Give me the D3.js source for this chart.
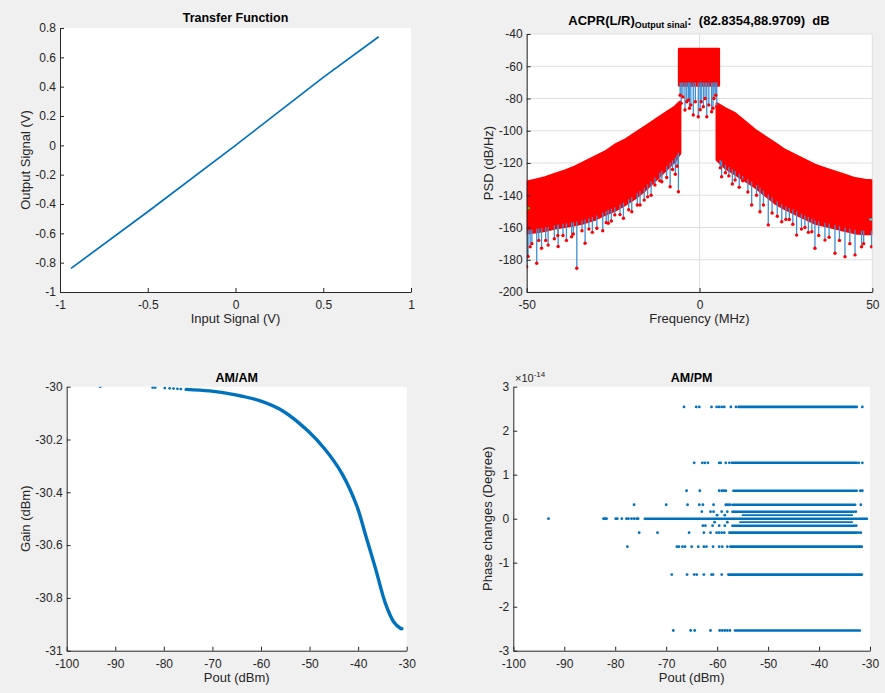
<!DOCTYPE html>
<html>
<head>
<meta charset="utf-8">
<script src="https://cdn.jsdelivr.net/npm/d3@7"></script>
<style>
  body { margin: 0; background: #f0f0f0; }
  svg { display: block; font-family: "Liberation Sans", Arial, sans-serif; }
</style>
</head>
<body>
<svg id="fig" width="885" height="693"></svg>
<script>
// ---- data ----
// transfer function
const tfInput  = [-0.937, -0.5, 0, 0.5, 0.816];
const tfOutput = [-0.839, -0.453, 0, 0.463, 0.740];

// PSD envelopes (MHz, dB/Hz)
const leftBandF   = [-50, -47.6, -44.7, -41.8, -38.9, -36, -33.1, -30.2, -27.3, -24.5, -21.6, -18.7, -15.8, -12.9, -10, -7.1, -5.6];
const leftUpperV  = [-131.6, -130.5, -128.9, -126.8, -124.8, -122.3, -119.2, -116.1, -113, -108.8, -105.7, -101.6, -97.5, -93.3, -89.2, -85.1, -82];
const leftLowerV  = [-163.6, -163, -162, -160.5, -159.5, -158.5, -157, -155, -152, -149.5, -146, -142, -137, -131, -125, -119, -114];
const centerBandF = [-5.9, 5.6];
const centerUpperV = [-49.3, -49.3];
const centerLowerV = [-72, -72];
const rightBandF  = [5.0, 7.4, 10.3, 13.2, 16.1, 19, 21.9, 24.7, 27.6, 30.5, 33.4, 36.3, 39.2, 42.1, 45, 47.9, 50];
const rightUpperV = [-83, -86.1, -89.2, -94.4, -99.5, -103.7, -107.8, -111.9, -115, -118.1, -121.2, -123.3, -125.4, -127.4, -129.5, -130.5, -130.8];
const rightLowerV = [-118, -123, -127, -131, -135, -140, -145, -148.5, -151.5, -154.5, -157.5, -159, -160.5, -162, -163.5, -164, -164];
// visible downward spikes
const spikeF = [-50, -49.6, -49, -48.5, -47.1, -46.5, -45.7, -44.5, -43.8, -42, -41, -40.9, -39.5, -38.5, -37, -36.5,
  -35.5, -34, -33.1, -32, -31, -29.7, -28, -27, -26.4, -25.5, -24.5, -23, -22, -20.5, -19.6, -18, -17.2, -16,
  -15, -14, -12.9, -11.5, -10.9, -9.5, -8.5, -7.8, -7, -6.5, -6.1,
  -5.6, -5.3, -4.8, -4.2, -3.7, -3.2, -2.9, -2.5, -1.8, -1.2, -0.35, 0.2, 0.5, 1.1, 1.6, 2.1, 2.7, 3.5, 3.9, 4.2, 4.7, 5.0,
  6, 6.4, 7.5, 8.5, 9.5, 10.3, 11.5, 12.5, 14, 15.1, 16.5, 17.5, 18.5, 19.9, 21, 22.5, 23.8, 25, 26, 27, 28.1,
  29.5, 30.5, 31.5, 32.5, 33.4, 34.5, 36.3, 37.5, 39.2, 40.5, 42.1, 43.5, 45, 46.9, 47.5, 49.8];
const spikeV = [-184.3, -178, -172, -170, -182.2, -168, -172.9, -168, -170.9, -167, -165, -171.8, -165, -168, -165.7, -164,
  -185.3, -162, -169.8, -161, -163, -160.5, -162, -157, -157.4, -156, -152.2, -152, -154.3, -149, -150.2, -146, -146, -143,
  -141, -140, -133.6, -131, -131.6, -129, -134.7, -124, -127, -122, -137.8,
  -78, -83, -79, -87.1, -82, -80.9, -86, -84, -90.2, -82, -91.3, -87, -82, -85.1, -80, -91.3, -84, -88.2, -86, -80, -78, -85.1,
  -123, -128.5, -126, -128, -133, -130.5, -135, -131, -138, -146, -140, -150.2, -146, -158.4, -151, -153, -156.4, -155, -155, -158, -164.7,
  -161, -160, -163, -162.6, -172.9, -165, -167.8, -166, -176, -168, -178.1, -170, -177, -171.9, -170, -171.9];

// AM/AM
const amPout = [-75.4, -70.6, -65.8, -60.3, -55.5, -50.2, -46.7, -43.3, -40.3, -38.5, -36.4, -34.4, -32.7, -31.3, -31.0];
const amGain = [-30.01, -30.016, -30.029, -30.053, -30.092, -30.17, -30.24, -30.33, -30.45, -30.56, -30.69, -30.82, -30.89, -30.915, -30.917];
const amSparsePout = [-93.1, -82.3, -81.8, -79.8, -78.8, -78, -77.2, -76.5];
const amSparseGain = [-30.0, -30.003, -30.003, -30.005, -30.006, -30.007, -30.008, -30.009];

// AM/PM (units of 1e-14 degree)
const pmLevels = [2.541, 1.2705, 0.6353, 0.3176, 0.1588, 0.0794, 0, -0.0794, -0.1588, -0.3176, -0.6353, -1.2705, -2.541];
const pmDenseStart = [-55.8, -57.1, -56.8, -57, -57, -55, -74.2, -55.5, -57, -57.6, -57.4, -57.8, -56.5];
const pmDenseEnd   = [-32.6, -32.6, -32.6, -32.9, -33.2, -33.5, -30.6, -33.5, -33, -32.6, -31.6, -31.6, -32];
const pmSparse = [
  [-66.5, -64.1, -63.5, -61.1, -60.1, -59.6, -59.1, -58.6, -57.3, -56.3, -31.5],
  [-64.5, -62.9, -62.4, -61.8, -59.6, -59.3, -58.3, -57.6, -32.2, -31.5],
  [-66, -63.4, -59.6, -59.1, -58.7, -58.3, -31.9, -31.5],
  [-76.3, -70, -65.8, -63.5, -62.8, -60.7, -58.3, -57.9, -57.5, -31.8],
  [-63, -61.3, -60.7, -59.1, -58, -32.8],
  [-60, -58.5],
  [-93.1, -82.3, -82, -81.7, -79.9, -79.6, -78.7, -77.8, -77.4, -76.8, -76.3, -75.8, -75.5],
  [-60.5, -58],
  [-62.8, -62.3, -60.9, -59.6, -58.5, -32.7],
  [-75.3, -71.7, -65.5, -62.6, -61.3, -60.1, -59.6, -59.1, -58.6, -32.2, -31.8],
  [-77.6, -67.9, -67.5, -66.8, -66.3, -65, -63.7, -62.6, -62.1, -60.8, -59.6, -59, -58],
  [-68.9, -65.9, -64.5, -64, -62.6, -61.1, -60.8, -59.1],
  [-68.6, -65.2, -64.4, -61.3, -59.5, -59, -58.5, -58, -57.5]
];

// ---- drawing ----
const blue = "#0072BD";
const axisColor = "#262626";
const svg = d3.select("#fig");
svg.append("rect").attr("width", 885).attr("height", 693).attr("fill", "#f0f0f0");
const defs = svg.append("defs");
const fmt = d => String(+d.toFixed(2));

function makePanel(id, box, xDom, yDom, xTicks, yTicks, grid) {
  const x = d3.scaleLinear().domain(xDom).range([box.l, box.r]);
  const y = d3.scaleLinear().domain(yDom).range([box.b, box.t]);
  svg.append("rect")
    .attr("x", box.l).attr("y", box.t)
    .attr("width", box.r - box.l).attr("height", box.b - box.t)
    .attr("fill", "#fff");
  if (grid) {
    const gg = svg.append("g").attr("stroke", "#dfdfdf").attr("stroke-width", 1);
    gg.selectAll(".gx").data(xTicks).join("line")
      .attr("x1", d => x(d)).attr("x2", d => x(d)).attr("y1", box.t).attr("y2", box.b);
    gg.selectAll(".gy").data(yTicks).join("line")
      .attr("x1", box.l).attr("x2", box.r).attr("y1", d => y(d)).attr("y2", d => y(d));
  }
  defs.append("clipPath").attr("id", id)
    .append("rect").attr("x", box.l).attr("y", box.t)
    .attr("width", box.r - box.l).attr("height", box.b - box.t);
  const marks = svg.append("g").attr("clip-path", `url(#${id})`);
  return { box, x, y, xTicks, yTicks, marks };
}

function drawAxes(p) {
  const xa = svg.append("g").attr("transform", `translate(0,${p.box.b})`)
    .call(d3.axisBottom(p.x).tickValues(p.xTicks).tickSizeInner(-4).tickSizeOuter(0)
      .tickPadding(8.5).tickFormat(fmt));
  const ya = svg.append("g").attr("transform", `translate(${p.box.l},0)`)
    .call(d3.axisLeft(p.y).tickValues(p.yTicks).tickSizeInner(-4).tickSizeOuter(0)
      .tickPadding(4).tickFormat(fmt));
  [xa, ya].forEach(a => {
    a.attr("font-size", 12).attr("font-family", null);
    a.select(".domain").attr("stroke", axisColor);
    a.selectAll(".tick line").attr("stroke", axisColor);
    a.selectAll(".tick text").attr("fill", axisColor);
  });
}

function labels(p, title, xLabel, yLabel, titleY, yLabelX) {
  const cx = (p.box.l + p.box.r) / 2;
  if (title) {
    svg.append("text").attr("x", cx).attr("y", titleY).attr("text-anchor", "middle")
      .attr("font-weight", "bold").attr("font-size", 12.5).attr("fill", "#000").text(title);
  }
  svg.append("text").attr("x", cx).attr("y", p.box.b + 31).attr("text-anchor", "middle")
    .attr("font-size", 13).attr("fill", axisColor).text(xLabel);
  const cy = (p.box.t + p.box.b) / 2;
  svg.append("text").attr("transform", `translate(${yLabelX},${cy}) rotate(-90)`)
    .attr("text-anchor", "middle").attr("font-size", 13).attr("fill", axisColor).text(yLabel);
}

// Panel 1: transfer function
const p1 = makePanel("c1", { l: 60, r: 411, t: 28, b: 292 }, [-1, 1], [-1, 0.8],
  [-1, -0.5, 0, 0.5, 1], [-1, -0.8, -0.6, -0.4, -0.2, 0, 0.2, 0.4, 0.6, 0.8], false);
const tfData = tfInput.map((v, i) => [v, tfOutput[i]]);
p1.marks.append("path").datum(tfData)
  .attr("fill", "none").attr("stroke", blue).attr("stroke-width", 1.7)
  .attr("d", d3.line().x(d => p1.x(d[0])).y(d => p1.y(d[1])));
drawAxes(p1);
labels(p1, "Transfer Function", "Input Signal (V)", "Output Signal (V)", 22, 29.5);

// Panel 2: PSD
const p2 = makePanel("c2", { l: 526.7, r: 872.3, t: 34, b: 292 }, [-50, 50], [-200, -40],
  [-50, 0, 50], d3.range(-200, -39, 20), true);
const bandArea = d3.area().x(d => p2.x(d[0])).y0(d => p2.y(d[1])).y1(d => p2.y(d[2]));
[[leftBandF, leftLowerV, leftUpperV], [centerBandF, centerLowerV, centerUpperV], [rightBandF, rightLowerV, rightUpperV]]
  .forEach(([f, lo, up]) => {
    p2.marks.append("path").datum(f.map((v, i) => [v, lo[i], up[i]]))
      .attr("fill", "#ff0000").attr("stroke", "#ff0000").attr("stroke-width", 2.5)
      .attr("stroke-linejoin", "round").attr("d", bandArea);
  });
const leftLow = d3.scaleLinear().domain(leftBandF).range(leftLowerV).clamp(true);
const rightLow = d3.scaleLinear().domain(rightBandF).range(rightLowerV).clamp(true);
const stemTop = f => f < -5.6 ? leftLow(f) : (f > 5.2 ? rightLow(f) : centerLowerV[0]);
const spikes = spikeF.map((f, i) => [f, spikeV[i]]);
p2.marks.append("g").selectAll("line").data(spikes).join("line")
  .attr("x1", d => p2.x(d[0])).attr("x2", d => p2.x(d[0]))
  .attr("y1", d => p2.y(stemTop(d[0]) + 2)).attr("y2", d => p2.y(d[1]))
  .attr("stroke", "#3d8fd6").attr("stroke-width", 1.3);
p2.marks.append("g").selectAll("circle").data(spikes).join("circle")
  .attr("cx", d => p2.x(d[0])).attr("cy", d => p2.y(d[1])).attr("r", 1.7)
  .attr("fill", "#ff0000");
p2.marks.append("rect").attr("x", p2.x(-50)).attr("y", p2.y(-148) - 1).attr("width", 3).attr("height", 2).attr("fill", "#00ff00");
p2.marks.append("rect").attr("x", p2.x(50) - 3).attr("y", p2.y(-155) - 1).attr("width", 3).attr("height", 2).attr("fill", "#00ffff");
drawAxes(p2);
labels(p2, null, "Frequency (MHz)", "PSD (dB/Hz)", 0, 493);
const t2 = svg.append("text").attr("x", 699).attr("y", 25).attr("text-anchor", "middle")
  .attr("font-weight", "bold").attr("fill", "#000").style("white-space", "pre");
t2.append("tspan").attr("font-size", 13).text("ACPR(L/R)");
t2.append("tspan").attr("font-size", 9).attr("dy", 3).text("Output sinal");
t2.append("tspan").attr("font-size", 13).attr("dy", -3).text(":  (82.8354,88.9709)  dB");

// Panel 3: AM/AM
const p3 = makePanel("c3", { l: 66.7, r: 406.7, t: 386.7, b: 650.7 }, [-100, -30], [-31, -30],
  d3.range(-100, -29, 10), [-31, -30.8, -30.6, -30.4, -30.2, -30], false);
p3.marks.append("path").datum(amPout.map((v, i) => [v, amGain[i]]))
  .attr("fill", "none").attr("stroke", blue).attr("stroke-width", 3.4).attr("stroke-linecap", "round")
  .attr("d", d3.line().curve(d3.curveCatmullRom).x(d => p3.x(d[0])).y(d => p3.y(d[1])));
p3.marks.append("g").selectAll("circle").data(amSparsePout.map((v, i) => [v, amSparseGain[i]])).join("circle")
  .attr("cx", d => p3.x(d[0])).attr("cy", d => p3.y(d[1])).attr("r", 1.4).attr("fill", blue);
drawAxes(p3);
labels(p3, "AM/AM", "Pout (dBm)", "Gain (dBm)", 382, 29.5);

// Panel 4: AM/PM
const p4 = makePanel("c4", { l: 513.3, r: 870, t: 386.7, b: 650.7 }, [-100, -30], [-3, 3],
  d3.range(-100, -29, 10), [-3, -2, -1, 0, 1, 2, 3], false);
p4.marks.append("g").selectAll("line").data(pmLevels).join("line")
  .attr("x1", (d, i) => p4.x(pmDenseStart[i])).attr("x2", (d, i) => p4.x(pmDenseEnd[i]))
  .attr("y1", d => p4.y(d)).attr("y2", d => p4.y(d))
  .attr("stroke", blue).attr("stroke-width", d => Math.abs(d) === 0.0794 ? 1.8 : 2.6)
  .attr("stroke-linecap", "round");
const pmDots = pmSparse.flatMap((arr, i) => arr.map(v => [v, pmLevels[i]]));
p4.marks.append("g").selectAll("circle").data(pmDots).join("circle")
  .attr("cx", d => p4.x(d[0])).attr("cy", d => p4.y(d[1])).attr("r", 1.4).attr("fill", blue);
drawAxes(p4);
labels(p4, "AM/PM", "Pout (dBm)", "Phase changes (Degree)", 382, 492);
const ex = svg.append("text").attr("x", 515).attr("y", 382).attr("font-size", 11).attr("fill", axisColor);
ex.append("tspan").text("×10");
ex.append("tspan").attr("font-size", 8).attr("dy", -5).text("-14");
</script>
</body>
</html>
